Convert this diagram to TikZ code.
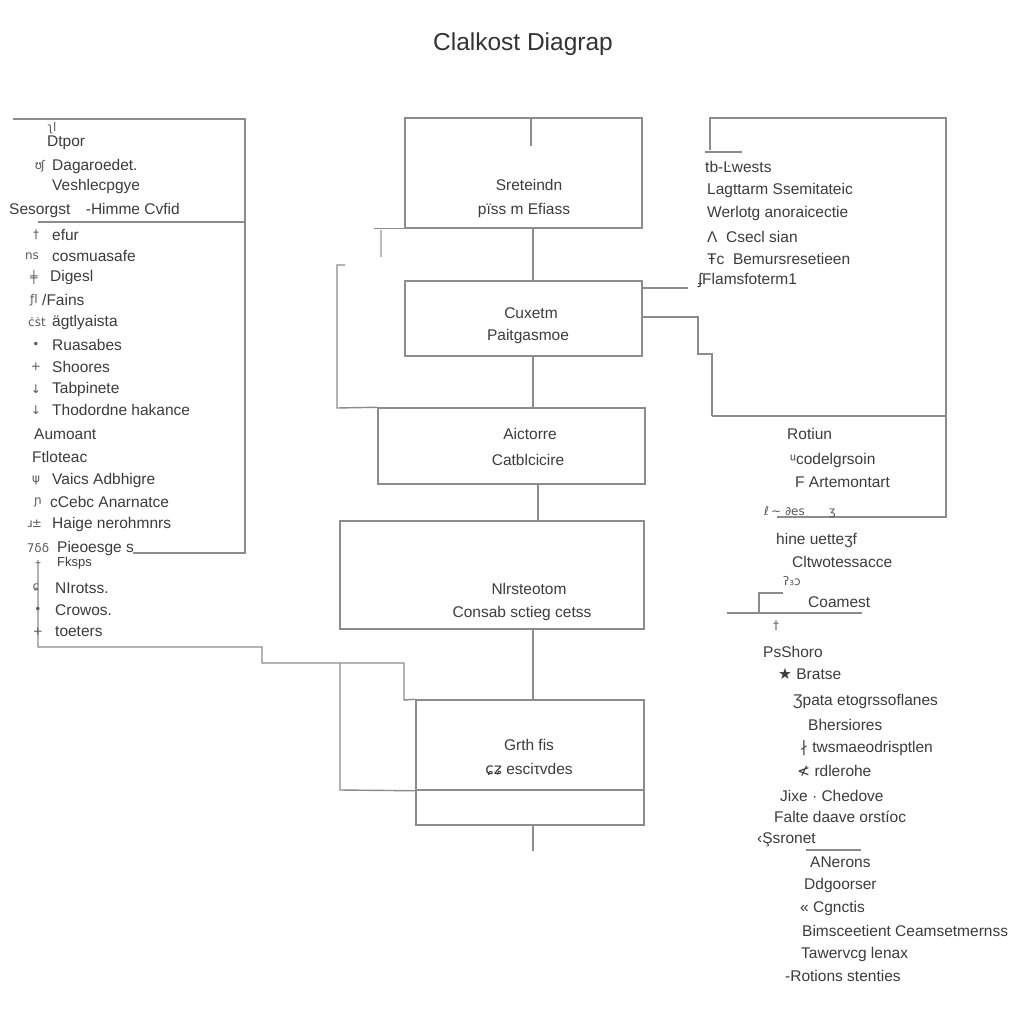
\documentclass[tikz,border=0pt]{standalone}
\usepackage{fontspec}
\setmainfont{Liberation Sans}
\newfontfamily\symf{DejaVu Sans}
\definecolor{ln}{HTML}{8C8C8C}
\definecolor{tx}{HTML}{3C3C3C}
\definecolor{ttl}{HTML}{333333}
\begin{document}
\begin{tikzpicture}[x=1pt,y=-1pt,
  box/.style={draw=ln, line width=1.5pt, rectangle, inner sep=0pt},
  wire/.style={draw=ln, line width=1.4pt},
  faint/.style={draw=ln!60, line width=1.2pt},
  lbl/.style={anchor=west, inner sep=0pt, text=tx, font=\fontsize{15.5}{17}\selectfont},
  clbl/.style={anchor=center, inner sep=0pt, text=tx, font=\fontsize{15.5}{17}\selectfont},
  mk/.style={anchor=center, inner sep=0pt, text=tx!85, font=\symf\fontsize{12}{13}\selectfont}]
\useasboundingbox (0,0) rectangle (1023,1023);
\fill[white] (0,0) rectangle (1023,1023);
% title
\node[anchor=center, inner sep=0pt, text=ttl, font=\fontsize{24.5}{26}\selectfont] (title) at (523,44) {Clalkost Diagrap};

% central boxes
\node[box, minimum width=237pt, minimum height=110pt] (b1) at (523.5,173) {};
\node[box, minimum width=237pt, minimum height=75pt] (b2) at (523.5,318.5) {};
\node[box, minimum width=267pt, minimum height=76pt] (b3) at (511.5,446) {};
\node[box, minimum width=304pt, minimum height=108pt] (b4) at (492,575) {};
\node[box, minimum width=228pt, minimum height=90pt] (b5) at (530,745) {};
\node[box, minimum width=228pt, minimum height=35pt] (b6) at (530,807.5) {};

\node[clbl] (t1a) at (529,185) {Sreteindn};
\node[clbl] (t1b) at (524,210) {pïss m Efiass};
\node[clbl] (t2a) at (531,313) {Cuxetm};
\node[clbl] (t2b) at (528,336) {Paitgasmoe};
\node[clbl] (t3a) at (530,434) {Aictorre};
\node[clbl] (t3b) at (528,460) {Catblcicire};
\node[clbl] (t4a) at (529,589) {Nlrsteotom};
\node[clbl] (t4b) at (522,613) {Consab sctieg cetss};
\node[clbl] (t5a) at (529,745) {Grth fis};
\node[clbl] (t5b) at (529,769) {{\symf ɕ}{\symf ʑ} esciτvdes};

% connectors between central boxes
\coordinate (xa) at (531,0);
\coordinate (xb) at (533,0);
\coordinate (xc) at (538,0);
\draw[wire] (b1.north -| xa) -- ++(0,29);
\draw[wire] (b1.south -| xb) -- (b2.north -| xb);
\draw[wire] (b2.south -| xb) -- (b3.north -| xb);
\draw[wire] (b3.south -| xc) -- (b4.north -| xc);
\draw[wire] (b4.south -| xb) -- (b5.north -| xb);
\draw[wire] (b6.south -| xb) -- ++(0,25);

% side wires around central column
\draw[wire] (b1.south west) -- ++(-30,0);
\draw[faint] (381,230) -- (381,257);
\draw[wire] (345,265) -- (337,265) -- (337,408) -- (b3.north west);
\draw[wire] (b2.east |- 0,288) -- (688,288);
\draw[wire] (b2.east |- 0,317) -- (698,317) -- (698,354) -- (712,354) -- (712,416);

% left panel
\draw[wire] (13,119) -- (245,119) -- (245,553) -- (133,553);
\draw[wire] (38,222) -- (245,222);
\coordinate (lw) at (38,560);
\draw[wire] (lw) -- (38,647) -- (262,647) -- (262,663) -- (404,663) -- (404,700) -- (b5.north west);
\draw[wire] (340,663) -- (340,790) -- (b5.south west);

% right panel
\draw[wire] (710,150) -- (710,118) -- (946,118) -- (946,517) -- (777,517);
\draw[wire] (712,416) -- (946,416);
\draw[wire] (705,152) -- (742,152);
\draw[wire] (727,613) -- (862,613);
\draw[wire] (759,613) -- (759,593) -- (783,593);
\draw[wire] (806,850) -- (861,850);

% left texts
\node[mk] (m0) at (52,128) {ʅl};
\node[lbl] (l1) at (47,143) {Dtpor};
\node[mk] (m1) at (40,166) {ʊ\kern-1pt ʃ};
\node[lbl] (l2) at (52,166) {Dagaroedet.};
\node[lbl] (l3) at (52,186) {Veshlecpgye};
\node[lbl] (l4) at (9,210) {Sesorgst\quad -Himme Cvfid};
\node[mk] (m5) at (36,235) {†};
\node[lbl] (l5) at (52,235) {efur};
\node[mk] (m6) at (32,256) {ns};
\node[lbl] (l6) at (52,256) {cosmuasafe};
\node[mk] (m7) at (34,277) {╪};
\node[lbl] (l7) at (50,277) {Digesl};
\node[mk] (m8) at (34,300) {ƒl};
\node[lbl] (l8) at (42,300) {/Fains};
\node[mk] (m9) at (37,322) {ċṡt};
\node[lbl] (l9) at (52,322) {ägtlyaista};
\node[mk] (m10) at (36,345) {•};
\node[lbl] (l10) at (52,345) {Ruasabes};
\node[mk] (m11) at (36,367) {+};
\node[lbl] (l11) at (52,367) {Shoores};
\node[mk] (m12) at (36,389) {↓};
\node[lbl] (l12) at (52,389) {Tabpinete};
\node[mk] (m13) at (36,410) {↓};
\node[lbl] (l13) at (52,410) {Thodordne hakance};
\node[lbl] (l14) at (34,434) {Aumoant};
\node[lbl] (l15) at (32,457) {Ftloteac};
\node[mk] (m16) at (36,480) {ψ};
\node[lbl] (l16) at (52,480) {Vaics Adbhigre};
\node[mk] (m17) at (38,502) {ɲ};
\node[lbl] (l17) at (50,502) {cCebc Anarnatce};
\node[mk] (m18) at (35,524) {ɹ\kern-1pt ±};
\node[lbl] (l18) at (52,524) {Haige nerohmnrs};
\node[mk] (m19) at (38,548) {7δδ};
\node[lbl] (l19) at (57,548) {Pieoesge s};
\node[mk] (m20) at (38,565) {–};
\node[lbl, font=\fontsize{13}{15}\selectfont] (l20) at (57,563) {Fksps};
\node[mk] (m21) at (36,588) {ɕ};
\node[lbl] (l21) at (55,588) {NIrotss.};
\node[mk] (m22) at (38,610) {•};
\node[lbl] (l22) at (55,610) {Crowos.};
\node[mk] (m23) at (38,632) {+};
\node[lbl] (l23) at (55,632) {toeters};

% right texts
\node[lbl] (r1) at (705,167) {tb-Ŀwests};
\node[lbl] (r2) at (707,190) {Lagttarm Ssemitateic};
\node[lbl] (r3) at (707,213) {Werlotg anoraicectie};
\node[lbl] (r4) at (707,237) {Λ\ \ Csecl sian};
\node[lbl] (r5) at (707,259) {Ŧc\ \ Bemursresetieen};
\node[lbl] (r6) at (698,280) {ʄFlamsfoterm1};
\node[lbl] (r7) at (787,434) {Rotiun};
\node[lbl] (r8) at (790,460) {ᵘcodelgrsoin};
\node[lbl] (r9) at (795,482) {F Artemontart};
\node[mk] (r10) at (800,512) {ℓ\,∼ ∂es\qquad ʒ};
\node[lbl] (r11) at (776,540) {hine uetteʒf};
\node[lbl] (r12) at (792,562) {Cltwotessacce};
\node[mk] (r13) at (792,581) {ʔ₃ɔ};
\node[lbl] (r14) at (808,602) {Coamest};
\node[mk] (r15) at (776,626) {†};
\node[lbl] (r16) at (763,652) {PsShoro};
\node[lbl] (r17) at (778,674) {{\symf ★} Bratse};
\node[lbl] (r18) at (793,701) {Ʒpata etogrssoflanes};
\node[lbl] (r19) at (808,725) {Bhersiores};
\node[lbl] (r20) at (800,748) {{\symf ∤} twsmaeodrisptlen};
\node[lbl] (r21) at (797,771) {{\symf ≮} rdlerohe};
\node[lbl] (r22) at (780,796) {Jixe · Chedove};
\node[lbl] (r23) at (774,817) {Falte daave orstíoc};
\node[lbl] (r24) at (757,840) {‹Şsronet};
\node[lbl] (r25) at (810,862) {ANerons};
\node[lbl] (r26) at (804,885) {Ddgoorser};
\node[lbl] (r27) at (800,908) {« Cgnctis};
\node[lbl] (r28) at (802,931) {Bimsceetient Ceamsetmernss};
\node[lbl] (r29) at (801,954) {Tawervcg lenax};
\node[lbl] (r30) at (785,976) {-Rotions stenties};
\end{tikzpicture}
\end{document}
